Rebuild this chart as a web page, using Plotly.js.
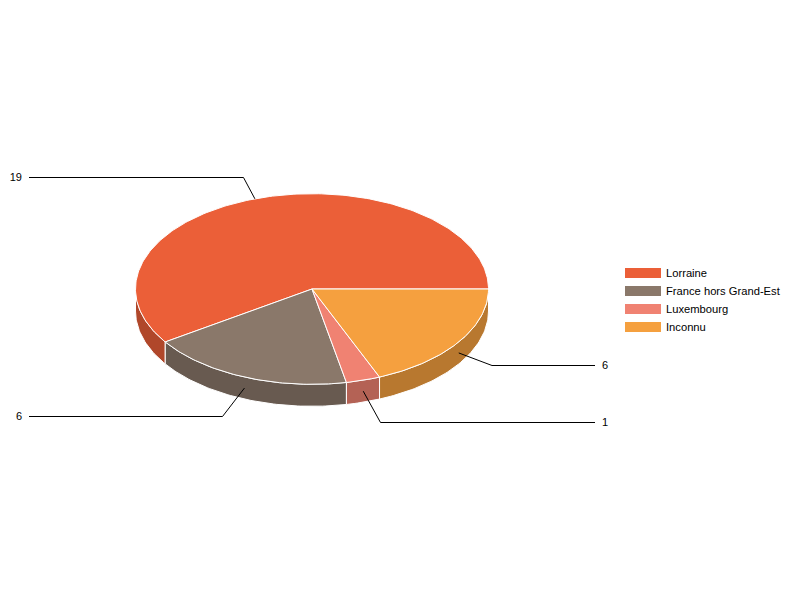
<!DOCTYPE html>
<html><head><meta charset="utf-8">
<script src="https://cdn.plot.ly/plotly-3.0.1.min.js"></script>
<style>html,body{margin:0;padding:0;background:#fff}#chart{opacity:.999}</style></head>
<body><div id="chart" style="width:800px;height:600px"></div>
<script>
// Data
const categories = ["Lorraine", "France hors Grand-Est", "Luxembourg", "Inconnu"];
const counts = [19, 6, 1, 6];
const topColors = ["#eb5f38", "#8a786a", "#f08272", "#f5a03f"];
const sideColors = ["#b0472a", "#685a50", "#b46255", "#b8782f"];

// Layout constants: leader elbow x, elbow y, leader end x, label x, anchor angle nudge
const labelLayout = [[243.5,177.5,29,22,2],[222.5,416.5,29,22,0],[380.5,422.5,595,602,0],[492,365.5,595,602,0]];
const labelDy = 1;
const legendRowY = [273,291,309,327];

// Projection constants
const cx = 312, cy = 289, rx = 176.5, ry = 95.3, depth = 22;
const total = counts.reduce((a,b)=>a+b,0);
const pt = (deg, dz=0) => [cx + rx*Math.cos(deg*Math.PI/180), cy - ry*Math.sin(deg*Math.PI/180) + dz];
function arc(a0, a1, dz=0){ const n=Math.max(2,Math.ceil(Math.abs(a1-a0))), out=[];
  for(let i=0;i<=n;i++) out.push(pt(a0+(a1-a0)*i/n, dz)); return out; }
const poly = (pts, color, name) => ({
  type:"scatter", mode:"lines", x:pts.map(p=>p[0]), y:pts.map(p=>p[1]), fill:"toself", fillcolor:color,
  line:{color:"#ffffff",width:1}, hoverinfo:"skip", showlegend:false, name});

const traces = [];
let a = 0; const spans = counts.map(v=>{const s=[a,a+v/total*360]; a=s[1]; return s;});
// Side walls: only the front half (180..360 degrees) is visible
spans.forEach((s,i)=>{ const a0=Math.max(s[0],180), a1=Math.min(s[1],360); if(a1<=a0) return;
  traces.push(poly([...arc(a0,a1,0),...arc(a1,a0,depth),pt(a0,0)], sideColors[i], categories[i]+" side")); });
// Top faces
spans.forEach((s,i)=> traces.push(poly([[cx,cy],...arc(s[0],s[1]),[cx,cy]], topColors[i], categories[i])));
// Leader lines and value labels
spans.forEach((s,i)=>{ const mid=(s[0]+s[1])/2, e=labelLayout[i];
  const start = pt(mid+e[4], (mid>180 && mid<360) ? depth/2 : 0);
  traces.push({type:"scatter",mode:"lines",x:[start[0],e[0],e[2]],y:[start[1],e[1],e[1]],
    line:{color:"#000",width:1},hoverinfo:"skip",showlegend:false});
  traces.push({type:"scatter",mode:"text",x:[e[3]],y:[e[1]+labelDy],text:[String(counts[i])],
    textposition:e[3]<cx?"middle left":"middle right",textfont:{family:"Liberation Sans, Arial",size:11,color:"#000"},
    hoverinfo:"skip",showlegend:false});
});
// Legend entries: one legend per row so the row spacing can match
const legends = {};
categories.forEach((c,i)=>{ const key = i ? "legend"+(i+1) : "legend";
  traces.push({type:"scatter",mode:"lines",x:[null],y:[null],name:c,legend:key,line:{color:topColors[i],width:10}});
  legends[key] = {x:620/800,y:1-legendRowY[i]/600,xanchor:"left",yanchor:"middle",itemwidth:36,
    font:{size:11.2,color:"#000"},bgcolor:"rgba(0,0,0,0)"};
});

Plotly.newPlot("chart",traces,Object.assign({
  width:800,height:600,margin:{l:0,r:0,t:0,b:0},paper_bgcolor:"#fff",plot_bgcolor:"#fff",
  xaxis:{range:[0,800],visible:false,fixedrange:true},
  yaxis:{range:[600,0],visible:false,fixedrange:true},
  font:{family:"Liberation Sans, Arial",size:11,color:"#000"},
  showlegend:true
},legends),{displayModeBar:false,staticPlot:true});
</script></body></html>
